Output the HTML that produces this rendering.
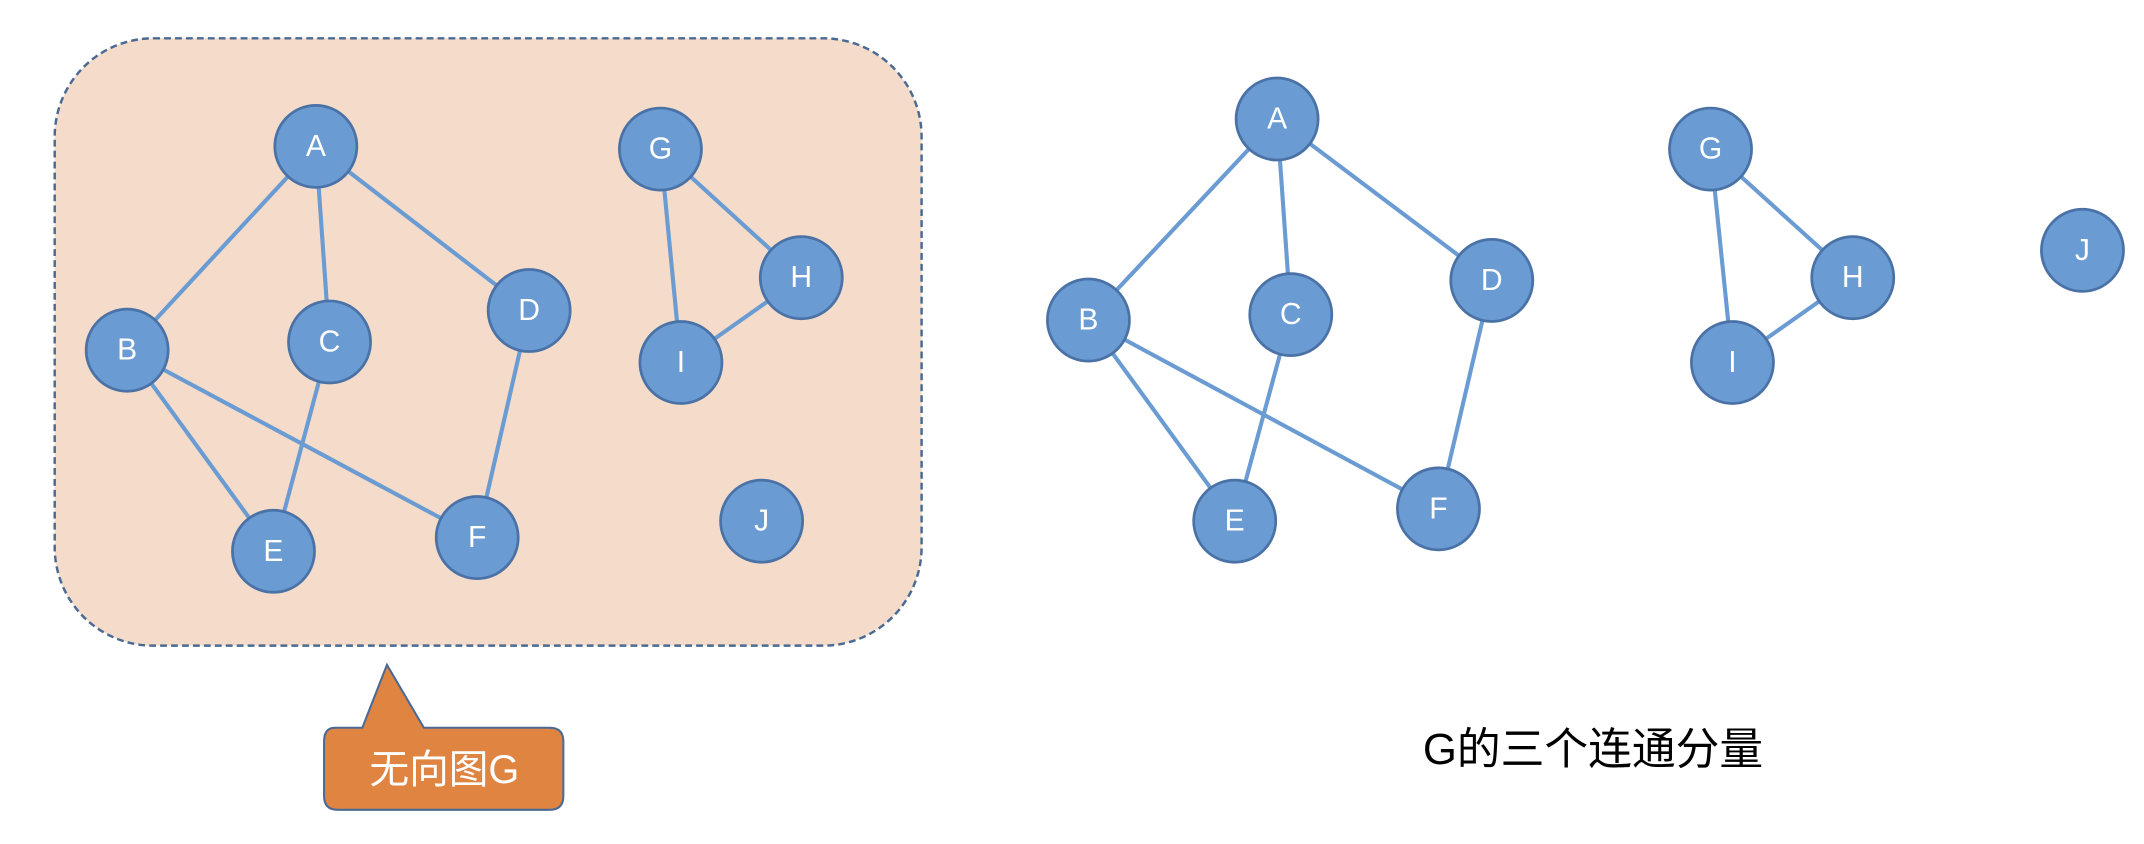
<!DOCTYPE html>
<html><head><meta charset="utf-8"><style>
html,body{margin:0;padding:0;background:#fff;}
svg{display:block;}
text{font-family:"Liberation Sans","Noto Sans CJK SC",sans-serif;}
</style></head><body>
<svg width="2144" height="844" viewBox="0 0 1568 617" preserveAspectRatio="none" xmlns="http://www.w3.org/2000/svg">
<rect x="40" y="28" width="634" height="444" rx="72" ry="72" fill="#f5dcca" stroke="#4a6a94" stroke-width="1.8" stroke-dasharray="5,3"/>
<g stroke="#6a9bd2" stroke-width="3">
<line x1="231" y1="107" x2="93" y2="256"/><line x1="231" y1="107" x2="241" y2="250"/>
<line x1="231" y1="107" x2="387" y2="227"/><line x1="93" y1="256" x2="200" y2="403"/>
<line x1="93" y1="256" x2="349" y2="393"/><line x1="241" y1="250" x2="200" y2="403"/>
<line x1="387" y1="227" x2="349" y2="393"/><line x1="483" y1="109" x2="586" y2="203"/>
<line x1="483" y1="109" x2="498" y2="265"/><line x1="586" y1="203" x2="498" y2="265"/>
<line x1="934" y1="87" x2="796" y2="234"/><line x1="934" y1="87" x2="944" y2="230"/>
<line x1="934" y1="87" x2="1091" y2="205"/><line x1="796" y1="234" x2="903" y2="381"/>
<line x1="796" y1="234" x2="1052" y2="372"/><line x1="944" y1="230" x2="903" y2="381"/>
<line x1="1091" y1="205" x2="1052" y2="372"/><line x1="1251" y1="109" x2="1355" y2="203"/>
<line x1="1251" y1="109" x2="1267" y2="265"/><line x1="1355" y1="203" x2="1267" y2="265"/>
</g>
<g fill="#6a9bd2" stroke="#4a72a6" stroke-width="2">
<circle cx="231" cy="107" r="30"/><circle cx="93" cy="256" r="30"/><circle cx="241" cy="250" r="30"/>
<circle cx="387" cy="227" r="30"/><circle cx="200" cy="403" r="30"/><circle cx="349" cy="393" r="30"/>
<circle cx="483" cy="109" r="30"/><circle cx="586" cy="203" r="30"/><circle cx="498" cy="265" r="30"/>
<circle cx="557" cy="381" r="30"/>
<circle cx="934" cy="87" r="30"/><circle cx="796" cy="234" r="30"/><circle cx="944" cy="230" r="30"/>
<circle cx="1091" cy="205" r="30"/><circle cx="903" cy="381" r="30"/><circle cx="1052" cy="372" r="30"/>
<circle cx="1251" cy="109" r="30"/><circle cx="1355" cy="203" r="30"/><circle cx="1267" cy="265" r="30"/>
<circle cx="1523" cy="183" r="30"/>
</g>
<g fill="#fff" font-size="22" text-anchor="middle" dominant-baseline="central">
<text x="231" y="107">A</text><text x="93" y="256">B</text><text x="241" y="250">C</text>
<text x="387" y="227">D</text><text x="200" y="403">E</text><text x="349" y="393">F</text>
<text x="483" y="109">G</text><text x="586" y="203">H</text><text x="498" y="265">I</text>
<text x="557" y="381">J</text>
<text x="934" y="87">A</text><text x="796" y="234">B</text><text x="944" y="230">C</text>
<text x="1091" y="205">D</text><text x="903" y="381">E</text><text x="1052" y="372">F</text>
<text x="1251" y="109">G</text><text x="1355" y="203">H</text><text x="1267" y="265">I</text>
<text x="1523" y="183">J</text>
</g>
<path d="M245 532 L265 532 L283 486 L310 532 L402 532 Q412 532 412 542 L412 582 Q412 592 402 592 L247 592 Q237 592 237 582 L237 542 Q237 532 245 532 Z" fill="#e08441" stroke="#4a6a94" stroke-width="1.5"/>
<text x="325" y="563" fill="#fff" font-size="29" text-anchor="middle" dominant-baseline="central">无向图G</text>
<text x="1165" y="548" fill="#000" font-size="32" text-anchor="middle" dominant-baseline="central">G的三个连通分量</text>
</svg>
</body></html>
